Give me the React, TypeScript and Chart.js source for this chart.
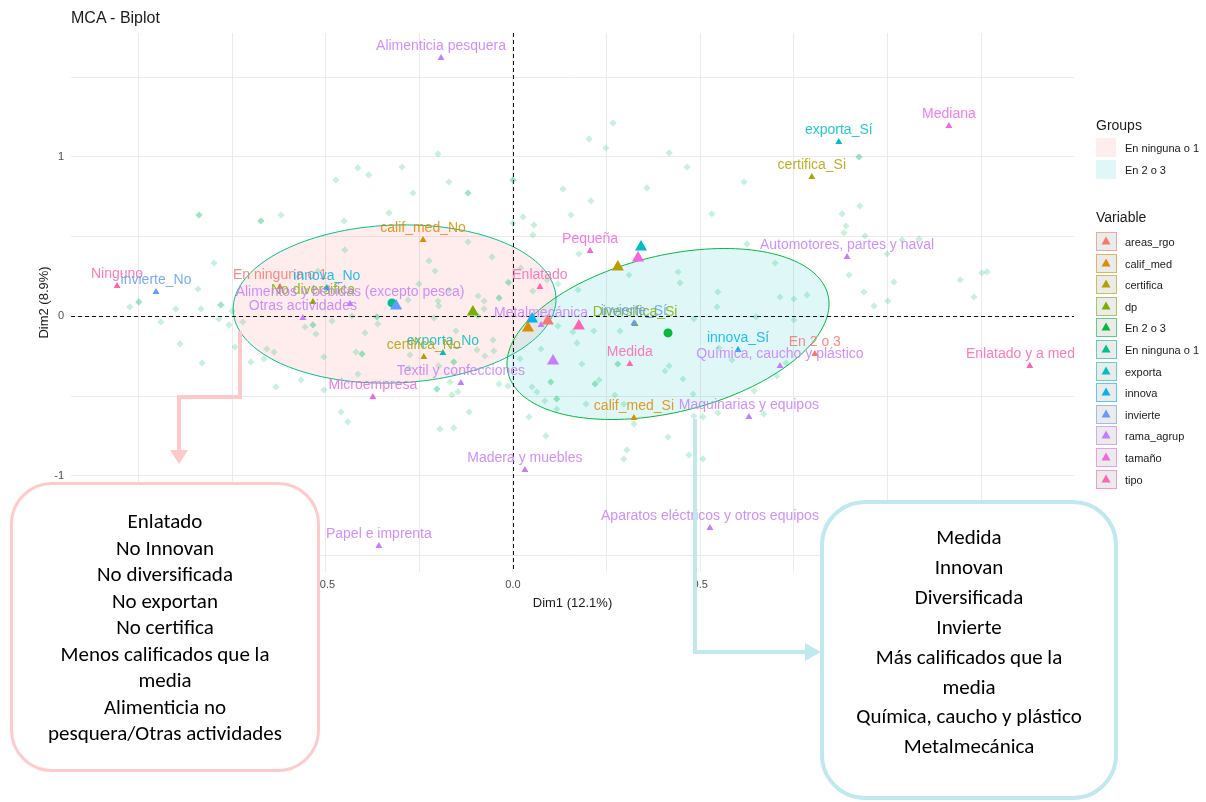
import React, { useEffect, useRef } from 'react';
import { Chart, registerables } from 'chart.js';

Chart.register(...registerables);

// ---------------- DATA ----------------
const variableNames = ['areas_rgo', 'calif_med', 'certifica', 'dp', 'En 2 o 3', 'En ninguna o 1', 'exporta', 'innova', 'invierte', 'rama_agrup', 'tamaño', 'tipo'];
const variableColors = ['#F8766D', '#DE8C00', '#B79F00', '#7CAE00', '#00BA38', '#00C08B', '#00BFC4', '#00B4F0', '#619CFF', '#C77CFF', '#F564E3', '#FF64B0'];

const groupNames = ['En ninguna o 1', 'En 2 o 3'];
const groupDim1 = [-0.323, 0.414];
const groupDim2 = [0.085, -0.103];
const ellipseCenterDim1 = [-0.316, 0.414];
const ellipseCenterDim2 = [0.078, -0.110];
const ellipseAxisU = [[0.431, 0.031], [0.430, 0.188]];
const ellipseAxisV = [[0.0, 0.495], [0.0, 0.502]];

const categoryLabels = ['Alimenticia pesquera', 'Mediana', 'exporta_Sí', 'certifica_Si', 'Automotores, partes y naval', 'Ninguno', 'invierte_No', 'En ninguna o 1', 'innova_No', 'No diversifica', 'Alimentos y bebidas (excepto pesca)', 'Otras actividades', 'calif_med_No', 'exporta_No', 'certifica_No', 'Textil y confecciones', 'Microempresa', 'Enlatado', 'Pequeña', 'Metalmecánica', 'Diversifica_Si', 'invierte_Sí', 'Medida', 'innova_Sí', 'En 2 o 3', 'Química, caucho y plástico', 'calif_med_Si', 'Maquinarias y equipos', 'Madera y muebles', 'Aparatos eléctricos y otros equipos', 'Papel e imprenta', 'Enlatado y a medida'];
const categoryVariable = ['rama_agrup', 'tamaño', 'exporta', 'certifica', 'rama_agrup', 'tipo', 'invierte', 'areas_rgo', 'innova', 'dp', 'rama_agrup', 'rama_agrup', 'calif_med', 'exporta', 'certifica', 'rama_agrup', 'tamaño', 'tipo', 'tamaño', 'rama_agrup', 'dp', 'invierte', 'tipo', 'innova', 'areas_rgo', 'rama_agrup', 'calif_med', 'rama_agrup', 'rama_agrup', 'rama_agrup', 'rama_agrup', 'tipo'];
const categoryDim1 = [-0.192, 1.164, 0.870, 0.798, 0.892, -1.057, -0.953, -0.622, -0.497, -0.534, -0.435, -0.561, -0.240, -0.187, -0.238, -0.139, -0.374, 0.072, 0.206, 0.075, 0.326, 0.323, 0.312, 0.601, 0.806, 0.713, 0.323, 0.630, 0.032, 0.526, -0.358, 1.380];
const categoryDim2 = [1.621, 1.194, 1.094, 0.875, 0.373, 0.191, 0.154, 0.185, 0.179, 0.091, 0.078, -0.009, 0.480, -0.229, -0.254, -0.417, -0.505, 0.185, 0.411, -0.053, -0.047, -0.043, -0.298, -0.210, -0.235, -0.310, -0.636, -0.630, -0.962, -1.326, -1.439, -0.310];

const centroidVariable = ['invierte', 'dp', 'innova', 'calif_med', 'areas_rgo', 'tipo', 'rama_agrup', 'certifica', 'exporta', 'tamaño'];
const centroidDim1 = [-0.312, -0.107, 0.051, 0.040, 0.093, 0.176, 0.107, 0.280, 0.342, 0.334];
const centroidDim2 = [0.066, 0.028, -0.016, -0.072, -0.028, -0.060, -0.279, 0.310, 0.436, 0.367];

const indDim1 = [-0.200, -0.414, -0.385, -0.296, -0.473, -0.171, -0.267, -0.120, -0.120, 0.000, 0.000, -0.838, -0.838, -0.673, -0.673, -0.619, -0.451, -0.331, 0.000, 0.027, -0.120, -0.449, -0.056, -0.224, -0.208, -0.798, -0.251, -0.013, -0.841, -0.521, -0.171, -0.999, -0.999, -0.280, -0.200, -0.077, -0.037, -0.037, -0.093,
  -1.023, -0.900, -0.833, -0.780, -0.780, -0.940, -0.785, -0.750, -0.758, -0.721, -0.889, -0.830, -0.742, -0.700, -0.657, -0.638, -0.665, -0.633, -0.566, -0.555, -0.534, -0.534, -0.526, -0.505, -0.483, -0.430, -0.395, -0.419, -0.403, -0.403, -0.363, -0.363, -0.361, -0.414, -0.505, -0.459, -0.441, -0.275, -0.211, -0.152, -0.158, -0.158, -0.198, -0.278, -0.075, -0.051, -0.168, -0.147, -0.163, -0.203, -0.203, -0.037, -0.013, -0.117, -0.195, -0.158, -0.093, -0.198, -0.053, -0.096, -0.077,
  0.267, 0.203, 0.248, 0.417, 0.465, 0.617, 0.924, 0.924, 0.926, 0.879, 0.889, 0.884, 0.940, 1.039, 1.084, 0.999, 0.134, 0.208, 0.358, 0.155, 0.531, 0.056, 0.053, 0.176, 0.120, 0.174, 0.310, 0.441, 0.446, 0.547, 0.625, 0.700, 0.713, 0.750, 0.785, 0.897, 1.017, 0.937, 1.001, 1.194, 0.091, 0.021, 1.252, 1.266, 1.231,
  0.545, 0.649, 0.750, 0.964, 0.483, 0.120, 0.160, 0.286, 0.216, 0.171, 0.075, 0.184, 0.280, 0.280, 0.417, 0.406, 0.550, 0.585, 0.454, 0.481, 0.644, 0.705, 0.729, 0.101, 0.101, 0.219, 0.219, 0.230, 0.272, 0.051, 0.064, 0.085, 0.117, 0.117, 0.195, 0.043, 0.117, 0.296, 0.323, 0.483, 0.507, 0.547, 0.670, 0.088, 0.414, 0.304, 0.296, 0.470, 0.507, -0.011, 0.053, 0.019];
const indDim2 = [1.019, 0.931, 0.887, 0.937, 0.856, 0.843, 0.774, 0.774, 0.774, 0.856, 0.856, 0.636, 0.636, 0.599, 0.599, 0.636, 0.599, 0.649, 0.586, 0.624, 0.467, 0.417, 0.373, 0.348, 0.285, 0.335, 0.204, 0.216, 0.172, 0.285, 0.166, 0.091, 0.091, 0.103, 0.097, 0.097, 0.116, 0.116, 0.129,
  0.060, 0.047, 0.047, 0.072, 0.072, -0.034, -0.016, 0.034, -0.053, -0.034, -0.172, -0.292, -0.191, -0.285, -0.204, -0.223, -0.266, -0.442, -0.398, -0.066, -0.053, -0.053, -0.110, -0.254, -0.028, 0.003, -0.103, -0.223, -0.235, -0.235, -0.003, -0.003, -0.047, -0.361, -0.461, -0.599, -0.661, -0.241, -0.009, -0.091, -0.285, -0.285, -0.310, -0.323, -0.248, -0.216, -0.411, -0.473, -0.492, -0.455, -0.455, -0.423, -0.436, -0.599, -0.705, -0.699, 0.003, 0.066, -0.147, -0.210, 0.047,
  1.213, 1.113, 1.056, 1.025, 0.937, 0.843, 1.000, 1.000, 0.693, 0.643, 0.567, 0.524, 0.505, 0.480, 0.486, 0.392, 0.799, 0.724, 0.806, 0.636, 0.643, 0.574, 0.511, 0.392, 0.204, 0.166, 0.260, 0.279, 0.210, 0.154, 0.455, 0.335, 0.122, 0.110, 0.135, 0.260, 0.216, 0.154, 0.097, 0.229, 0.229, 0.304, 0.273, 0.279, 0.122,
  0.060, -0.003, -0.022, 0.066, -0.016, -0.060, -0.097, -0.091, -0.091, -0.166, -0.204, -0.298, -0.298, -0.298, -0.310, -0.342, -0.198, -0.273, -0.392, -0.486, -0.467, -0.373, -0.292, -0.411, -0.411, -0.423, -0.423, -0.398, -0.492, -0.442, -0.473, -0.530, -0.517, -0.517, -0.549, -0.630, -0.580, -0.549, -0.674, -0.624, -0.630, -0.605, -0.611, -0.749, -0.756, -0.837, -0.893, -0.868, -0.893, 0.210, 0.160, -0.266];

const xGridValues = [-1, -0.75, -0.5, -0.25, 0, 0.25, 0.5, 0.75, 1, 1.25];
const xTickValues = [-1, -0.5, 0, 0.5, 1];
const xTickLabels = ['-1.0', '-0.5', '0.0', '0.5', '1.0'];
const yGridValues = [-1.5, -1, -0.5, 0, 0.5, 1, 1.5];
const yTickValues = [-1, 0, 1];
const yTickLabels = ['-1', '0', '1'];

const leftBoxLines = ['Enlatado', 'No Innovan', 'No diversificada', 'No exportan', 'No certifica', 'Menos calificados que la', 'media', 'Alimenticia no', 'pesquera/Otras actividades'];
const rightBoxLines = ['Medida', 'Innovan', 'Diversificada', 'Invierte', 'Más calificados que la', 'media', 'Química, caucho y plástico', 'Metalmecánica'];

// ---------------- HELPERS ----------------
const colorOf = (v: string) => variableColors[variableNames.indexOf(v)];
const rgba = (hex: string, a: number) => {
  const n = parseInt(hex.slice(1), 16);
  return `rgba(${(n >> 16) & 255},${(n >> 8) & 255},${n & 255},${a})`;
};
const FONT = '"Liberation Sans", Arial, Helvetica, sans-serif';

const groupFill = ['rgba(248,118,109,0.13)', 'rgba(0,191,196,0.12)'];
const groupLine = ['#00C08B', '#00BA38'];
const groupKeyFill = ['#fdeeed', '#e0f6f7'];

const extrasPlugin = {
  id: 'biplotExtras',
  beforeDatasetsDraw(chart: any) {
    const { ctx, chartArea, scales } = chart;
    const sx = scales.x, sy = scales.y;
    ctx.save();
    ctx.beginPath();
    ctx.rect(chartArea.left, chartArea.top, chartArea.right - chartArea.left, chartArea.bottom - chartArea.top);
    ctx.clip();
    for (let g = 0; g < groupNames.length; g++) {
      ctx.beginPath();
      const steps = 160;
      for (let i = 0; i <= steps; i++) {
        const t = (i / steps) * Math.PI * 2;
        const dx = ellipseCenterDim1[g] + ellipseAxisU[g][0] * Math.cos(t) + ellipseAxisV[g][0] * Math.sin(t);
        const dy = ellipseCenterDim2[g] + ellipseAxisU[g][1] * Math.cos(t) + ellipseAxisV[g][1] * Math.sin(t);
        const px = sx.getPixelForValue(dx), py = sy.getPixelForValue(dy);
        if (i === 0) ctx.moveTo(px, py); else ctx.lineTo(px, py);
      }
      ctx.closePath();
      ctx.fillStyle = groupFill[g];
      ctx.fill();
      ctx.strokeStyle = groupLine[g];
      ctx.lineWidth = 1;
      ctx.stroke();
    }
    ctx.setLineDash([4, 3]);
    ctx.strokeStyle = '#111';
    ctx.lineWidth = 1;
    const x0 = Math.round(sx.getPixelForValue(0)) + 0.5;
    const y0 = Math.round(sy.getPixelForValue(0)) + 0.5;
    ctx.beginPath();
    ctx.moveTo(x0, chartArea.top); ctx.lineTo(x0, chartArea.bottom);
    ctx.moveTo(chartArea.left, y0); ctx.lineTo(chartArea.right, y0);
    ctx.stroke();
    ctx.restore();
  },
  afterDatasetsDraw(chart: any) {
    const { ctx, chartArea } = chart;
    const meta = chart.getDatasetMeta(1);
    ctx.save();
    ctx.beginPath();
    ctx.rect(chartArea.left, chartArea.top, chartArea.right - chartArea.left, chartArea.bottom - chartArea.top);
    ctx.clip();
    ctx.font = `14px ${FONT}`;
    ctx.textAlign = 'center';
    ctx.textBaseline = 'middle';
    meta.data.forEach((el: any, i: number) => {
      ctx.fillStyle = rgba(colorOf(categoryVariable[i]), 0.85);
      ctx.fillText(categoryLabels[i], el.x, el.y - 12);
    });
    ctx.restore();
  },
};

const near = (a: number, b: number) => Math.abs(a - b) < 1e-6;

export default function App() {
  const ref = useRef<HTMLCanvasElement>(null);

  useEffect(() => {
    if (!ref.current) return;
    Chart.defaults.font.family = FONT;
    const chart = new Chart(ref.current, {
      type: 'scatter',
      data: {
        datasets: [
          {
            label: 'individuals',
            data: indDim1.map((x, i) => ({ x, y: indDim2[i] })),
            pointStyle: 'rectRot',
            pointRadius: 3.6,
            backgroundColor: 'rgba(0,190,100,0.22)',
            borderWidth: 0,
          },
          {
            label: 'categories',
            data: categoryDim1.map((x, i) => ({ x, y: categoryDim2[i] })),
            pointStyle: 'triangle',
            pointRadius: 4,
            backgroundColor: categoryVariable.map(colorOf),
            borderWidth: 0,
          },
          {
            label: 'centroids',
            data: centroidDim1.map((x, i) => ({ x, y: centroidDim2[i] })),
            pointStyle: 'triangle',
            pointRadius: 7,
            backgroundColor: centroidVariable.map(colorOf),
            borderWidth: 0,
          },
          {
            label: 'groups',
            data: groupDim1.map((x, i) => ({ x, y: groupDim2[i] })),
            pointStyle: 'circle',
            pointRadius: 4.5,
            backgroundColor: groupNames.map(colorOf),
            borderWidth: 0,
          },
        ],
      },
      options: {
        animation: false,
        responsive: false,
        maintainAspectRatio: false,
        events: [],
        layout: { padding: { left: 0, top: 33, right: 132, bottom: 185 } },
        plugins: { legend: { display: false }, tooltip: { enabled: false }, title: { display: false } },
        scales: {
          x: {
            type: 'linear',
            min: -1.18,
            max: 1.498,
            afterBuildTicks: (s: any) => { s.ticks = xGridValues.map((value) => ({ value })); },
            afterFit: (s: any) => { s.height = 45; },
            ticks: {
              autoSkip: false,
              maxRotation: 0,
              padding: 6,
              color: '#4d4d4d',
              font: { size: 11, family: FONT },
              callback: (v: any) => {
                const k = xTickValues.findIndex((t) => near(t, Number(v)));
                return k >= 0 ? xTickLabels[k] : '';
              },
            },
            grid: { color: '#ebebeb', lineWidth: 1, drawTicks: false },
            border: { display: false },
            title: { display: true, text: 'Dim1 (12.1%)', color: '#1a1a1a', font: { size: 13, family: FONT }, padding: { top: 0, bottom: 6 } },
          },
          y: {
            type: 'linear',
            min: -1.602,
            max: 1.777,
            afterBuildTicks: (s: any) => { s.ticks = yGridValues.map((value) => ({ value })); },
            afterFit: (s: any) => { s.width = 71; },
            ticks: {
              autoSkip: false,
              padding: 7,
              color: '#4d4d4d',
              font: { size: 11, family: FONT },
              callback: (v: any) => {
                const k = yTickValues.findIndex((t) => near(t, Number(v)));
                return k >= 0 ? yTickLabels[k] : '';
              },
            },
            grid: { color: '#ebebeb', lineWidth: 1, drawTicks: false },
            border: { display: false },
            title: { display: true, text: 'Dim2 (8.9%)', color: '#1a1a1a', font: { size: 13, family: FONT }, padding: { top: 37, bottom: 0 } },
          },
        },
      },
      plugins: [extrasPlugin],
    } as any);
    return () => chart.destroy();
  }, []);

  const boxFont = 'Carlito, Lato, "Open Sans", sans-serif';

  return (
    <div style={{ position: 'absolute', left: 0, top: 0, width: 1206, height: 802, background: '#fff', overflow: 'hidden', fontFamily: FONT }}>
      <canvas ref={ref} width={1206} height={802} style={{ position: 'absolute', left: 0, top: 0, width: 1206, height: 802 }} />

      <div style={{ position: 'absolute', left: 71, top: 8, fontSize: 16, lineHeight: '20px', color: '#1a1a1a', whiteSpace: 'nowrap' }}>MCA - Biplot</div>

      {/* Legend: Groups */}
      <div style={{ position: 'absolute', left: 1096, top: 117, fontSize: 14, lineHeight: '16px', color: '#1a1a1a' }}>Groups</div>
      {groupNames.map((g, i) => (
        <React.Fragment key={g}>
          <div style={{ position: 'absolute', left: 1096, top: 138 + i * 21.5, width: 20, height: 19, background: groupKeyFill[i] }} />
          <div style={{ position: 'absolute', left: 1125, top: 141 + i * 21.5, fontSize: 11, lineHeight: '14px', color: '#1a1a1a', whiteSpace: 'nowrap' }}>{g}</div>
        </React.Fragment>
      ))}

      {/* Legend: Variable */}
      <div style={{ position: 'absolute', left: 1096, top: 209, fontSize: 14, lineHeight: '16px', color: '#1a1a1a' }}>Variable</div>
      {variableNames.map((v, i) => (
        <React.Fragment key={v}>
          <div style={{ position: 'absolute', left: 1096, top: 232 + i * 21.6, width: 21, height: 19, boxSizing: 'border-box', border: `1.5px solid ${rgba(variableColors[i], 0.6)}`, background: '#ebebeb' }}>
            <svg width={18} height={16} style={{ position: 'absolute', left: 0, top: 0 }}>
              <polygon points="9,3.5 13.5,11.5 4.5,11.5" fill={variableColors[i]} />
            </svg>
          </div>
          <div style={{ position: 'absolute', left: 1125, top: 235 + i * 21.6, fontSize: 11, lineHeight: '14px', color: '#1a1a1a', whiteSpace: 'nowrap' }}>{v}</div>
        </React.Fragment>
      ))}

      {/* Arrows */}
      <svg width={1206} height={802} style={{ position: 'absolute', left: 0, top: 0, pointerEvents: 'none' }}>
        <polyline points="240,331 240,397 179,397 179,451" fill="none" stroke="#ffc9c9" strokeWidth={4} strokeLinejoin="miter" />
        <polygon points="170,450 188,450 179,464" fill="#ffc9c9" />
        <polyline points="695,419 695,652 806,652" fill="none" stroke="#bfe9ef" strokeWidth={4} strokeLinejoin="miter" />
        <polygon points="805,643 805,661 821,652" fill="#bfe9ef" />
      </svg>

      {/* Annotation boxes */}
      <div style={{ position: 'absolute', left: 10, top: 482, width: 310, height: 290, boxSizing: 'border-box', border: '3.5px solid #ffcaca', borderRadius: 42, background: '#fff' }} />
      <div style={{ position: 'absolute', left: 10, top: 508, width: 310, textAlign: 'center', fontFamily: boxFont, fontSize: 21, lineHeight: '26.5px', color: '#000', whiteSpace: 'nowrap' }}>
        {leftBoxLines.map((l) => <div key={l}>{l}</div>)}
      </div>
      <div style={{ position: 'absolute', left: 820, top: 500, width: 298, height: 300, boxSizing: 'border-box', border: '4px solid #bfe9ef', borderRadius: 45, background: '#fff' }} />
      <div style={{ position: 'absolute', left: 820, top: 523, width: 298, textAlign: 'center', fontFamily: boxFont, fontSize: 21, lineHeight: '29.9px', color: '#000', whiteSpace: 'nowrap' }}>
        {rightBoxLines.map((l) => <div key={l}>{l}</div>)}
      </div>
    </div>
  );
}
